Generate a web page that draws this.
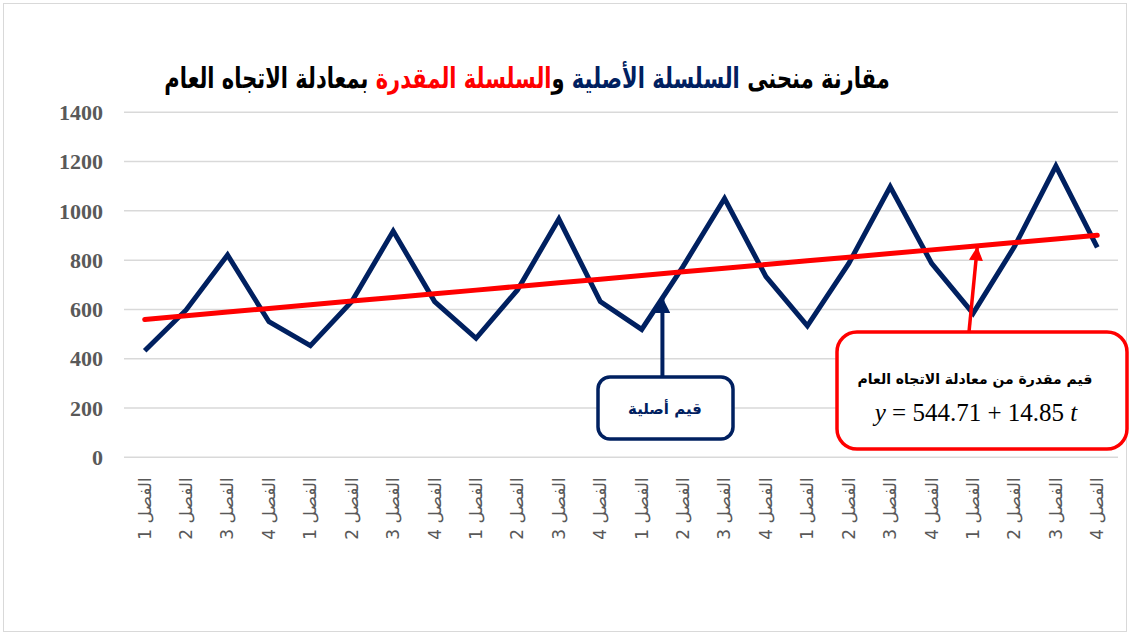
<!DOCTYPE html>
<html>
<head>
<meta charset="utf-8">
<script src="https://cdn.jsdelivr.net/npm/d3@7"></script>
<style>
  body { margin: 0; background: #fff; }
  svg { display: block; }
</style>
</head>
<body>
<svg id="chart"></svg>
<script>
  // quarters (6 years x 4 quarters)
  const quarters = [
    "الفصل 1", "الفصل 2", "الفصل 3", "الفصل 4",
    "الفصل 1", "الفصل 2", "الفصل 3", "الفصل 4",
    "الفصل 1", "الفصل 2", "الفصل 3", "الفصل 4",
    "الفصل 1", "الفصل 2", "الفصل 3", "الفصل 4",
    "الفصل 1", "الفصل 2", "الفصل 3", "الفصل 4",
    "الفصل 1", "الفصل 2", "الفصل 3", "الفصل 4",
  ];

  // original series
  const original = [
    432, 598, 821, 550, 453, 632, 918, 632, 483, 679, 967, 632,
    519, 775, 1050, 733, 533, 787, 1098, 787, 584, 855, 1182, 852,
  ];

  // estimated series, y = 544.71 + 14.85 t
  const estimated = [
    559.56, 574.41, 589.26, 604.11, 618.96, 633.81, 648.66, 663.51,
    678.36, 693.21, 708.06, 722.91, 737.76, 752.61, 767.46, 782.31,
    797.16, 812.01, 826.86, 841.71, 856.56, 871.41, 886.26, 901.11,
  ];

  const yTicks = [0, 200, 400, 600, 800, 1000, 1200, 1400];

  const color = {
    original: "#002060",
    estimated: "#FF0000",
    grid: "#d9d9d9",
    axisText: "#595959",
  };

  const size = { width: 1130, height: 634 };
  const margin = { top: 112.3, bottom: 176.7, left: 124, right: 12 };

  const svg = d3
    .select("#chart")
    .attr("width", size.width)
    .attr("height", size.height);

  // outer frame
  svg
    .append("rect")
    .attr("x", 3.5)
    .attr("y", 3.5)
    .attr("width", size.width - 7)
    .attr("height", size.height - 6)
    .attr("fill", "#fff")
    .attr("stroke", "#d9d9d9")
    .attr("stroke-width", 1);

  const x = d3
    .scaleBand()
    .domain(d3.range(quarters.length))
    .range([margin.left, size.width - margin.right]);

  // position of a (possibly fractional) quarter index
  const xAt = (i) => x(0) + x.bandwidth() * (i + 0.5);

  const y = d3
    .scaleLinear()
    .domain([0, 1400])
    .range([size.height - margin.bottom, margin.top]);

  // grid lines + y labels
  const grid = svg.append("g");
  yTicks.forEach((v) => {
    grid
      .append("line")
      .attr("x1", margin.left)
      .attr("x2", size.width - margin.right)
      .attr("y1", y(v))
      .attr("y2", y(v))
      .attr("stroke", color.grid)
      .attr("stroke-width", 1.5);

    grid
      .append("text")
      .text(v)
      .attr("x", 103)
      .attr("y", y(v))
      .attr("dy", "0.35em")
      .attr("text-anchor", "end")
      .attr("fill", color.axisText)
      .style("font-family", "Liberation Serif, serif")
      .style("font-weight", "bold")
      .style("font-size", "22px");
  });

  // x labels, rotated
  const xAxis = svg
    .append("g")
    .attr("transform", `translate(0, ${y(0) + 20})`)
    .call(
      d3
        .axisBottom(x)
        .tickSize(0)
        .tickFormat((i) => quarters[i])
    );
  xAxis.select(".domain").remove();
  xAxis
    .selectAll("text")
    .attr("transform", "rotate(-90)")
    .attr("x", 0)
    .attr("y", 0)
    .attr("dy", "0.35em")
    .attr("text-anchor", "end")
    .attr("fill", color.axisText)
    .style("font-family", "DejaVu Sans, sans-serif")
    .style("font-size", "17px");

  // lines
  const line = d3
    .line()
    .x((d, i) => xAt(i))
    .y((d) => y(d));

  svg
    .append("path")
    .datum(original)
    .attr("d", line)
    .attr("fill", "none")
    .attr("stroke", color.original)
    .attr("stroke-width", 5)
    .attr("stroke-linejoin", "miter");

  svg
    .append("path")
    .datum(estimated)
    .attr("d", line)
    .attr("fill", "none")
    .attr("stroke", color.estimated)
    .attr("stroke-width", 5)
    .attr("stroke-linecap", "round");

  // title
  const title = svg
    .append("text")
    .attr("transform", "translate(527, 88) scale(1, 1.35)")
    .attr("direction", "rtl")
    .attr("text-anchor", "middle")
    .style("font-family", "DejaVu Sans, sans-serif")
    .style("font-weight", "bold")
    .style("font-size", "21px");
  [
    ["مقارنة منحنى ", "#000"],
    ["السلسلة الأصلية", color.original],
    [" و", "#000"],
    ["السلسلة المقدرة", color.estimated],
    [" بمعادلة الاتجاه العام", "#000"],
  ].forEach(([t, c]) => title.append("tspan").text(t).attr("fill", c));

  // arrows
  const defs = svg.append("defs");
  const marker = (id, c) =>
    defs
      .append("marker")
      .attr("id", id)
      .attr("viewBox", "0 0 10 10")
      .attr("refX", 9)
      .attr("refY", 5)
      .attr("markerWidth", 4)
      .attr("markerHeight", 4)
      .attr("orient", "auto")
      .append("path")
      .attr("d", "M0,0 L10,5 L0,10 z")
      .attr("fill", c);
  marker("arrowBlue", color.original);
  marker("arrowRed", color.estimated);

  // annotation: original values
  const origIdx = 12.5;
  const origTip = (original[12] + original[13]) / 2;
  svg
    .append("line")
    .attr("x1", xAt(origIdx))
    .attr("x2", xAt(origIdx))
    .attr("y1", 377)
    .attr("y2", y(origTip) + 1)
    .attr("stroke", color.original)
    .attr("stroke-width", 4)
    .attr("marker-end", "url(#arrowBlue)");

  svg
    .append("rect")
    .attr("x", 598)
    .attr("y", 377)
    .attr("width", 135)
    .attr("height", 62)
    .attr("rx", 12)
    .attr("fill", "#fff")
    .attr("stroke", color.original)
    .attr("stroke-width", 3.5);

  svg
    .append("text")
    .text("قيم أصلية")
    .attr("x", 665)
    .attr("y", 414)
    .attr("text-anchor", "middle")
    .attr("fill", color.original)
    .style("font-family", "DejaVu Sans, sans-serif")
    .style("font-weight", "bold")
    .style("font-size", "15px");

  // annotation: estimated values
  const estIdx = 20.1;
  const estTip = 544.71 + 14.85 * (estIdx + 1);
  svg
    .append("line")
    .attr("x1", 969)
    .attr("x2", xAt(estIdx))
    .attr("y1", 332)
    .attr("y2", y(estTip) + 2)
    .attr("stroke", color.estimated)
    .attr("stroke-width", 3.5)
    .attr("marker-end", "url(#arrowRed)");

  svg
    .append("rect")
    .attr("x", 837)
    .attr("y", 332)
    .attr("width", 290)
    .attr("height", 117)
    .attr("rx", 20)
    .attr("fill", "#fff")
    .attr("stroke", color.estimated)
    .attr("stroke-width", 3.5);

  svg
    .append("text")
    .text("قيم مقدرة من معادلة الاتجاه العام")
    .attr("x", 975)
    .attr("y", 384)
    .attr("text-anchor", "middle")
    .attr("fill", "#000")
    .style("font-family", "DejaVu Sans, sans-serif")
    .style("font-weight", "bold")
    .style("font-size", "14px");

  const eq = svg
    .append("text")
    .attr("x", 976)
    .attr("y", 421)
    .attr("text-anchor", "middle")
    .attr("fill", "#000")
    .style("font-family", "Liberation Serif, serif")
    .style("font-size", "25px");
  eq.append("tspan").text("y").style("font-style", "italic");
  eq.append("tspan").text(" = 544.71 + 14.85 ");
  eq.append("tspan").text("t").style("font-style", "italic");
</script>
</body>
</html>
